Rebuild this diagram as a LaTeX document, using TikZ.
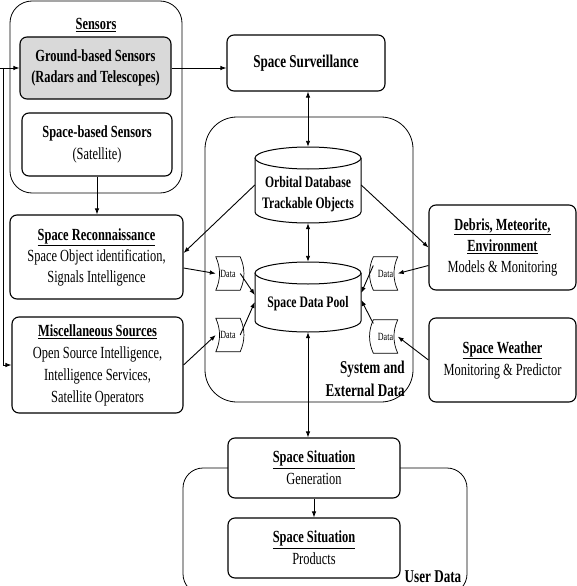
\documentclass[tikz,border=0pt]{standalone}
\usepackage{fontspec}
\setmainfont{Liberation Serif}[FakeStretch=0.73]
\usetikzlibrary{arrows.meta,calc}
\newcommand\cylout[3]{%
 \draw[line width=1pt,fill=white] (#1-53,#2+11) -- (#1-53,#3-11) .. controls (#1-53,#3-4.9) and (#1-29.3,#3) .. (#1,#3) .. controls (#1+29.3,#3) and (#1+53,#3-4.9) .. (#1+53,#3-11) -- (#1+53,#2+11);
 \draw[line width=1pt,fill=white] (#1,#2+11) ellipse [x radius=53pt, y radius=11pt];}
\newcommand\datashape[2]{%
 \draw[line width=0.7pt] (#1.north west) .. controls ($(#1.north west)+(#2,11)$) and ($(#1.south west)+(#2,-11)$) .. (#1.south west) -- (#1.south east) .. controls ($(#1.south east)+(#2,-11)$) and ($(#1.north east)+(#2,11)$) .. (#1.north east) -- cycle;}
\tikzset{
 box/.style={draw, line width=1.1pt, rounded corners=7pt, align=center, inner sep=0pt, fill=white, font=\fontsize{17}{22}\selectfont},
 cont/.style={draw, line width=0.8pt, inner sep=0pt},
 arr/.style={line width=0.9pt, -{Latex[length=6pt,width=4.5pt]}},
 darr/.style={line width=0.9pt, {Latex[length=6pt,width=4.5pt]}-{Latex[length=6pt,width=4.5pt]}},
 lbl/.style={align=center, inner sep=0pt, font=\bfseries\fontsize{18}{23}\selectfont},
 cyltext/.style={align=center, inner sep=0pt, font=\bfseries\fontsize{16}{21}\selectfont},
 datanode/.style={minimum width=24pt, minimum height=33pt, inner sep=0pt, font=\fontsize{11}{11}\selectfont},
 cylnode/.style={minimum width=106pt, inner sep=0pt},
}
\begin{document}
\begin{tikzpicture}[x=1pt,y=-1pt]
\useasboundingbox (0,0) rectangle (577,586);
% containers
\node[cont, rounded corners=22pt, minimum width=172pt, minimum height=192pt] (sensors) at (96,97) {};
\node[cont, rounded corners=32pt, minimum width=208pt, minimum height=285pt] (system) at (309,259.5) {};
\node[cont, rounded corners=20pt, minimum width=284pt, minimum height=126pt] (user) at (325,531) {};
\node[lbl, font=\bfseries\fontsize{17}{22}\selectfont] (senst) at (96,25) {\underline{Sensors}};
% boxes
\node[box, fill=gray!30, minimum width=151pt, minimum height=62pt, font=\bfseries\fontsize{17}{21}\selectfont] (ground) at (95.5,68) {Ground-based Sensors\\(Radars and Telescopes)};
\node[box, minimum width=150pt, minimum height=63pt] (spaceb) at (97,144.5) {\textbf{Space-based Sensors}\\(Satellite)};
\node[box, minimum width=158pt, minimum height=56pt, font=\bfseries\fontsize{18}{22}\selectfont] (surv) at (306,63) {Space Surveillance};
\node[box, minimum width=173pt, minimum height=84pt, font=\fontsize{17}{21}\selectfont] (recon) at (96.5,257) {\textbf{\underline{Space Reconnaissance}}\\Space Object identification,\\Signals Intelligence};
\node[box, minimum width=171pt, minimum height=96pt] (misc) at (97.5,365) {\textbf{\underline{Miscellaneous Sources}}\\Open Source Intelligence,\\Intelligence Services,\\Satellite Operators};
\node[box, minimum width=147pt, minimum height=85pt, font=\fontsize{17}{21}\selectfont] (debris) at (502.5,247.5) {\textbf{\underline{Debris, Meteorite,}}\\\textbf{\underline{Environment}}\\Models \& Monitoring};
\node[box, minimum width=147pt, minimum height=84pt] (weather) at (502.5,360) {\textbf{\underline{Space Weather}}\\Monitoring \& Predictor};
\node[box, minimum width=172pt, minimum height=60pt] (gen) at (314,468) {\textbf{\underline{Space Situation}}\\Generation};
\node[box, minimum width=172pt, minimum height=60pt] (prod) at (314,548) {\textbf{\underline{Space Situation}}\\Products};
% cylinders
\cylout{308}{147}{223}
\cylout{308}{262}{332}
\node[cylnode, minimum height=76pt] (c1) at (308,185) {};
\node[cylnode, minimum height=70pt] (c2) at (308,297) {};
\node[cyltext] (c1t) at (308,194) {Orbital Database\\Trackable Objects};
\node[cyltext] (c2t) at (308,304) {Space Data Pool};
% data shapes
\node[datanode] (dl1) at (228,273.5) {Data};
\node[datanode] (dl2) at (228,335) {Data};
\node[datanode] (dr1) at (385.5,273.5) {Data};
\node[datanode] (dr2) at (385.5,336.5) {Data};
\datashape{dl1}{5}
\datashape{dl2}{5}
\datashape{dr1}{-5}
\datashape{dr2}{-5}
% labels
\node[lbl, align=right, anchor=east] (syst) at (405,378.5) {System and\\External Data};
\node[lbl] (usert) at (433,577) {User Data};
% connectors
\coordinate (inL) at (0,68);
\coordinate (br) at (3,68);
\draw[arr] (inL) -- (ground.west);
\draw[arr] (br) |- (misc.west);
\draw[arr] (ground.east) -- (ground.east -| surv.west);
\draw[darr] (surv.south -| c1.north) -- (c1.north);
\draw[darr] (c1.south) -- (c2.north);
\draw[darr] (c2.south) -- (c2.south |- gen.north);
\draw[arr] (gen.south) -- (prod.north);
\draw[arr] (spaceb.south) -- (spaceb.south |- recon.north);
\draw[arr] (c1.west) -- ($(recon.east)+(0,-4)$);
\draw[arr] (c1.east) -- (debris.west);
\draw[arr] ($(recon.east)+(0,11)$) -- (dl1.west);
\draw[arr] (misc.east) -- (dl2.west);
\draw[arr] (dl1.east) -- ($(c2.west)+(0,-2)$);
\draw[arr] (dl2.east) -- ($(c2.west)+(0,5)$);
\draw[arr] ($(debris.west)+(0,18)$) -- (dr1.east);
\draw[arr] (weather.west) -- (dr2.east);
\draw[arr] ($(dr1.west)+(0,-8)$) -- ($(c2.east)+(0,-4)$);
\draw[arr] ($(dr2.west)+(0,-13)$) -- ($(c2.east)+(0,3)$);
\end{tikzpicture}
\end{document}
